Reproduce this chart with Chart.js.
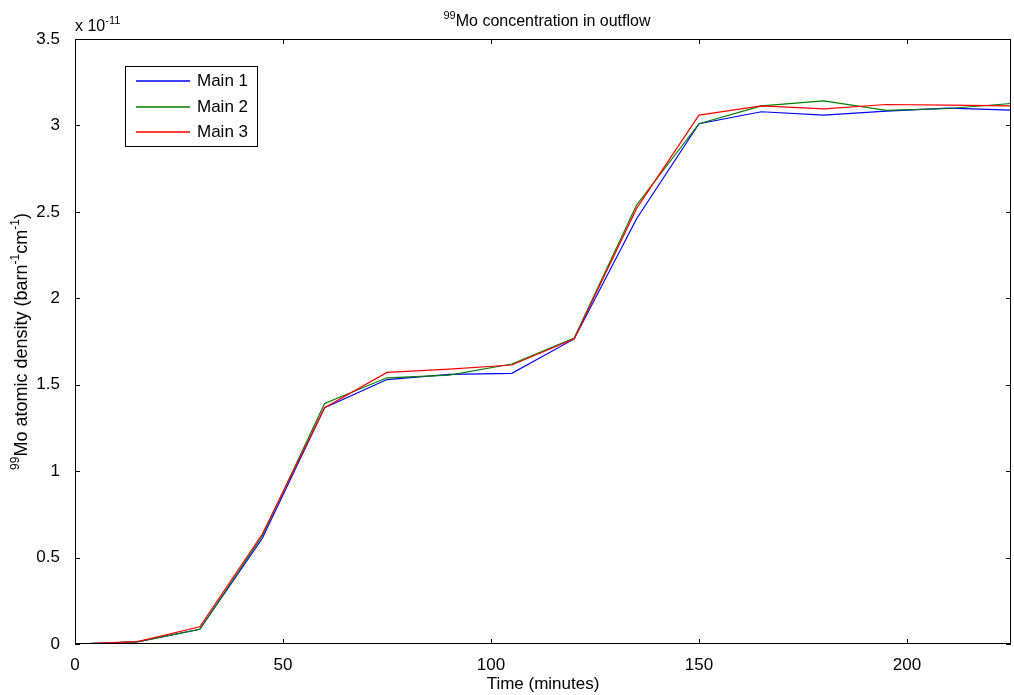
<!DOCTYPE html>
<html>
<head>
<meta charset="utf-8">
<script src="https://cdn.jsdelivr.net/npm/chart.js@4"></script>
<style>
    body { margin: 0; background: #fff; }
    #wrap { width: 1014px; height: 695px; position: relative; }
</style>
</head>
<body>
<div id="wrap"><canvas id="moChart"></canvas></div>
<script>
// time in minutes
const times = [0, 15, 30, 45, 60, 75, 90, 105, 120, 135, 150, 165, 180, 195, 210, 225];
// 99Mo atomic density, units of 1e-11 barn^-1 cm^-1
const main1 = [0, 0.012, 0.085, 0.61, 1.367, 1.53, 1.56, 1.566, 1.765, 2.46, 3.01, 3.079, 3.06, 3.083, 3.10, 3.088];
const main2 = [0, 0.012, 0.085, 0.625, 1.392, 1.54, 1.555, 1.62, 1.77, 2.54, 3.01, 3.113, 3.142, 3.087, 3.098, 3.127];
const main3 = [0, 0.014, 0.10, 0.635, 1.367, 1.571, 1.59, 1.614, 1.765, 2.52, 3.06, 3.113, 3.096, 3.121, 3.117, 3.113];
const seriesNames = ["Main 1", "Main 2", "Main 3"];
const seriesColors = ["#0000ff", "#008000", "#ff0000"];
const xTicks = [0, 50, 100, 150, 200];
const yTicks = [0, 0.5, 1, 1.5, 2, 2.5, 3, 3.5];

const FONT = "Liberation Sans, Arial, sans-serif";

function toPoints(vals) {
    return times.map((t, i) => ({ x: t, y: vals[i] }));
}

// draw text made of normal / superscript pieces
function richText(ctx, parts, x, y, size, align) {
    const supSize = Math.round(size * 0.68);
    let total = 0;
    parts.forEach(p => {
        ctx.font = (p[1] ? supSize : size) + "px " + FONT;
        total += ctx.measureText(p[0]).width;
    });
    let cx = align === "center" ? x - total / 2 : x;
    ctx.textBaseline = "alphabetic";
    ctx.textAlign = "left";
    parts.forEach(p => {
        ctx.font = (p[1] ? supSize : size) + "px " + FONT;
        ctx.fillText(p[0], cx, p[1] ? y - size * 0.42 : y);
        cx += ctx.measureText(p[0]).width;
    });
}

const matlabAxes = {
    id: "matlabAxes",
    afterDraw(chart) {
        const ctx = chart.ctx;
        const ca = chart.chartArea;
        const xs = chart.scales.x;
        const ys = chart.scales.y;
        ctx.save();
        ctx.strokeStyle = "#000";
        ctx.lineWidth = 1;
        ctx.strokeRect(ca.left + 0.5, ca.top + 0.5, ca.right - ca.left - 1, ca.bottom - ca.top - 1);

        // inward ticks, mirrored on top and right
        const tl = 5;
        ctx.beginPath();
        xTicks.forEach(v => {
            const px = Math.round(xs.getPixelForValue(v)) + 0.5;
            ctx.moveTo(px, ca.bottom); ctx.lineTo(px, ca.bottom - tl);
            ctx.moveTo(px, ca.top); ctx.lineTo(px, ca.top + tl);
        });
        yTicks.forEach(v => {
            const py = Math.round(ys.getPixelForValue(v)) + 0.5;
            ctx.moveTo(ca.left, py); ctx.lineTo(ca.left + tl, py);
            ctx.moveTo(ca.right, py); ctx.lineTo(ca.right - tl, py);
        });
        ctx.stroke();

        ctx.fillStyle = "#000";
        // exponent
        richText(ctx, [["x 10", false], ["-11", true]], ca.left, 31, 16, "left");
        // title
        const mid = (ca.left + ca.right) / 2;
        richText(ctx, [["99", true], ["Mo concentration in outflow", false]], mid + 4, 26, 16, "center");
        // x title
        richText(ctx, [["Time (minutes)", false]], mid, 689, 17, "center");
        // y title
        ctx.save();
        ctx.translate(27, (ca.top + ca.bottom) / 2);
        ctx.rotate(-Math.PI / 2);
        richText(ctx, [["99", true], ["Mo atomic density (barn", false], ["-1", true], ["cm", false], ["-1", true], [")", false]], 0, 0, 18, "center");
        ctx.restore();

        // legend box
        const lx = 125, ly = 66, lw = 132, lh = 80;
        ctx.fillStyle = "#fff";
        ctx.fillRect(lx, ly, lw, lh);
        ctx.strokeStyle = "#000";
        ctx.strokeRect(lx + 0.5, ly + 0.5, lw, lh);
        seriesNames.forEach((name, i) => {
            const ry = Math.round(80 + i * 25.5) + 1;
            ctx.strokeStyle = seriesColors[i];
            ctx.lineWidth = 1.5;
            ctx.beginPath();
            ctx.moveTo(136, ry);
            ctx.lineTo(190, ry);
            ctx.stroke();
            ctx.fillStyle = "#000";
            ctx.font = "17px " + FONT;
            ctx.textBaseline = "middle";
            ctx.textAlign = "left";
            ctx.fillText(name, 197, ry + 0.5);
        });
        ctx.restore();
    }
};

new Chart(document.getElementById("moChart"), {
    type: "line",
    data: {
        datasets: [
            { label: seriesNames[0], data: toPoints(main1), borderColor: seriesColors[0], order: 3 },
            { label: seriesNames[1], data: toPoints(main2), borderColor: seriesColors[1], order: 2 },
            { label: seriesNames[2], data: toPoints(main3), borderColor: seriesColors[2], order: 1 }
        ].map(d => Object.assign(d, { borderWidth: 1.2, pointRadius: 0, fill: false, tension: 0 }))
    },
    options: {
        responsive: true,
        maintainAspectRatio: false,
        animation: false,
        layout: { padding: { top: 39, right: 3, left: 0, bottom: 0 } },
        plugins: {
            legend: { display: false },
            title: { display: false },
            tooltip: { enabled: false }
        },
        scales: {
            x: {
                type: "linear",
                min: 0,
                max: 225,
                grid: { display: false },
                border: { display: false },
                ticks: {
                    stepSize: 50,
                    includeBounds: false,
                    maxRotation: 0,
                    padding: 3,
                    color: "#000",
                    font: { size: 17, family: FONT }
                },
                afterFit: s => { s.height = 51; }
            },
            y: {
                min: 0,
                max: 3.5,
                grid: { display: false },
                border: { display: false },
                ticks: {
                    stepSize: 0.5,
                    padding: 7,
                    color: "#000",
                    font: { size: 17, family: FONT },
                    callback: v => String(v)
                },
                afterFit: s => { s.width = 75; }
            }
        }
    },
    plugins: [matlabAxes]
});
</script>
</body>
</html>
